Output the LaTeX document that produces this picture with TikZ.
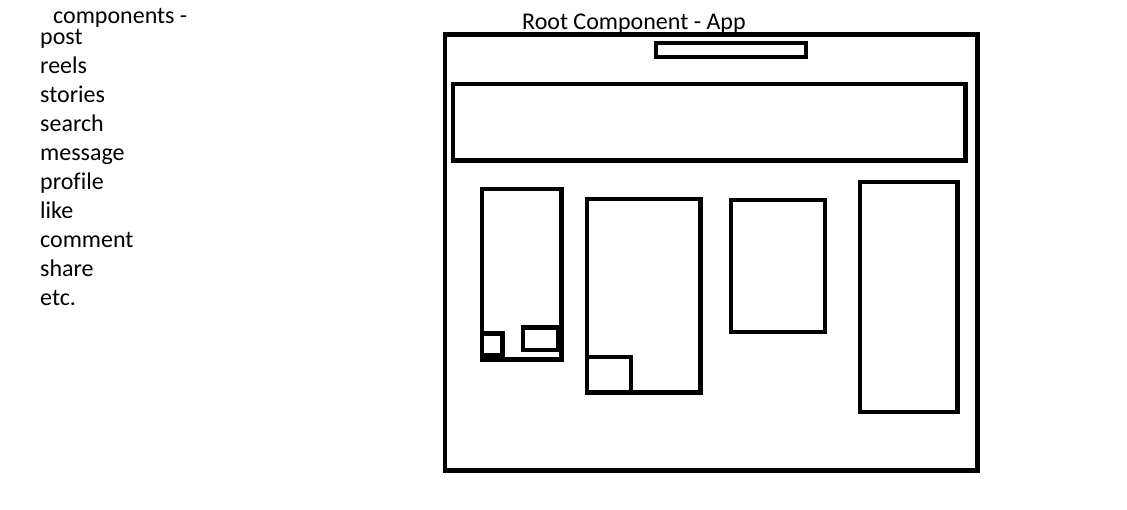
\documentclass[tikz,border=0pt]{standalone}
\usepackage{fontspec}
\setmainfont[Ligatures=NoCommon]{Carlito}
\begin{document}
\begin{tikzpicture}[x=1pt,y=-1pt,
  frame/.style={draw=black,line width=4.4pt,line join=miter},
  label/.style={anchor=base west,inner sep=0pt,font=\fontsize{24}{29}\selectfont}]
\useasboundingbox (0,0) rectangle (1127,509);
% list of components
\node[label] (title) at (53,23) {components -};
\foreach \w [count=\i from 0] in {post,reels,stories,search,message,profile,like,comment,share,etc.}
  \node[label] (item\i) at (40,44.5+29*\i) {\w};
% root app frame and its parts
\node[label] (root) at (522,29.5) {Root Component - App};
\draw[frame] (444.7,34.5) rectangle (977.5,470.5);
\draw[frame] (655.8,42.8) rectangle (806,56.7);
\draw[frame] (452.8,83.8) rectangle (965.5,160.5);
\draw[frame] (482,189) rectangle (561.5,359.5);
\draw[frame] (482,333.5) rectangle (502.5,355.5);
\draw[frame] (523,327.5) rectangle (558,350);
\draw[frame] (587,199) rectangle (700.5,392.5);
\draw[frame] (587,357) rectangle (631,392.5);
\draw[frame] (731,200) rectangle (825,332);
\draw[frame] (860,182) rectangle (957.5,412);
\end{tikzpicture}
\end{document}
